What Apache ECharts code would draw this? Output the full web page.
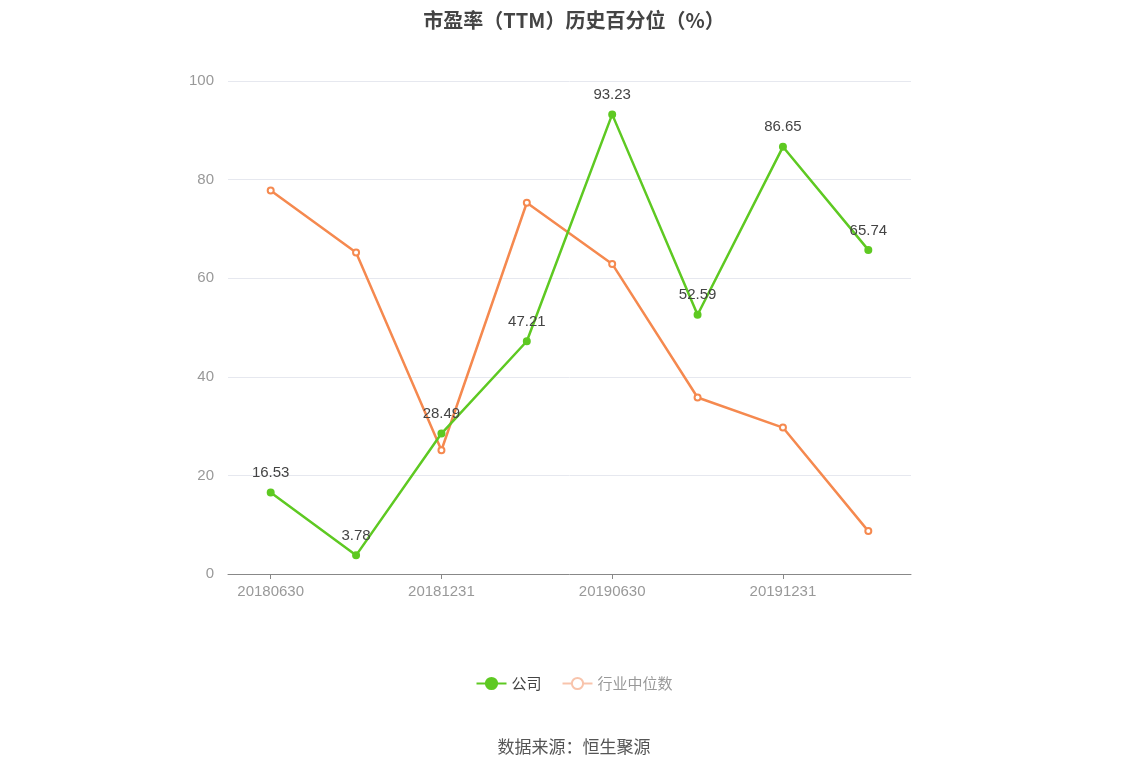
<!DOCTYPE html>
<html><head><meta charset="utf-8">
<script src="https://cdn.jsdelivr.net/npm/echarts@6/dist/echarts.min.js"></script>
<style>html,body{margin:0;padding:0;background:#fff}#c{width:1148px;height:776px}</style>
</head><body><div id="c"></div>
<script>
var categories=['20180630','20180930','20181231','20190331','20190630','20190930','20191231','20200331'];
var company=[16.53,3.78,28.49,47.21,93.23,52.59,86.65,65.74];
var industry=[77.8,65.2,25.1,75.3,62.9,35.8,29.7,8.7];
var yTicks=[0,20,40,60,80,100];
var chart=echarts.init(document.getElementById('c'));
chart.setOption({
  animation:false,
  title:{text:'市盈率（TTM）历史百分位（%）',left:'center',top:5,textStyle:{fontSize:20,fontWeight:'bold',color:'#444',fontFamily:'Noto Sans CJK SC'}},
  graphic:[{type:'text',left:'center',top:738,style:{text:'数据来源：恒生聚源',fontSize:17,fill:'#555',fontFamily:'Noto Sans CJK SC'}}],
  legend:{bottom:80,left:'center',itemWidth:30,itemHeight:14,itemGap:20,textStyle:{fontSize:15,fontFamily:'Noto Sans CJK SC'},
    data:[{name:'公司',textStyle:{color:'#444'}},{name:'行业中位数',textStyle:{color:'#999'},itemStyle:{color:'#fff',borderColor:'#f8c4ac'},lineStyle:{color:'#f8c4ac'}}]},
  grid:{left:228,right:237,top:81,bottom:202},
  xAxis:{type:'category',data:categories,boundaryGap:true,axisLine:{lineStyle:{color:'#888'}},axisTick:{show:true,alignWithLabel:true,lineStyle:{color:'#888'}},axisLabel:{color:'#999',fontSize:15,margin:10}},
  yAxis:{type:'value',min:yTicks[0],max:yTicks[yTicks.length-1],interval:20,axisLabel:{color:'#999',fontSize:15,margin:14},splitLine:{lineStyle:{color:'#e6e8ef'}},axisLine:{show:false},axisTick:{show:false}},
  series:[
    {name:'公司',type:'line',data:company,symbol:'circle',symbolSize:6,itemStyle:{color:'#5ec922',borderColor:'#5ec922',borderWidth:2},lineStyle:{width:2.5,color:'#5ec922'},
     emphasis:{disabled:true},label:{show:true,position:'top',distance:8,color:'#444',fontSize:15},z:3},
    {name:'行业中位数',type:'line',data:industry,symbol:'circle',symbolSize:6,itemStyle:{color:'#fff',borderColor:'#f5894f',borderWidth:2},lineStyle:{width:2.5,color:'#f5894f'},emphasis:{disabled:true},z:2}
  ]
});
</script></body></html>
